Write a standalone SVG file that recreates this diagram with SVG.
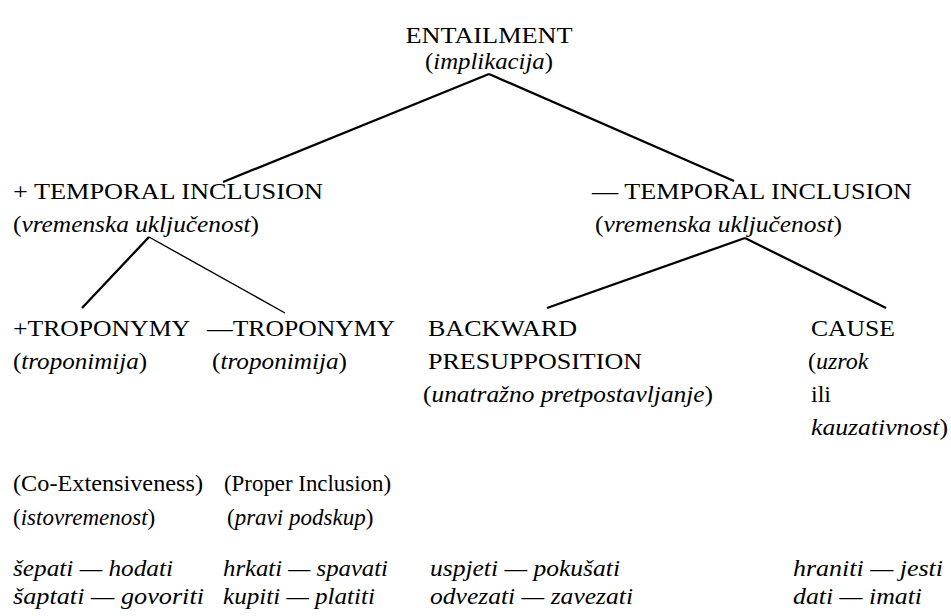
<svg xmlns="http://www.w3.org/2000/svg" width="951" height="616" viewBox="0 0 951 616" font-family="'Liberation Serif', 'DejaVu Serif', serif">
<style>
text{font-family:'Liberation Serif','DejaVu Serif',serif;font-size:24px;fill:#000}
.i{font-style:italic}
.s{font-size:23px}
.c{fill:none;stroke:#000;stroke-width:2.3;stroke-linecap:butt}
.t{fill:none;stroke:#000;stroke-width:1.4}
</style>
<rect width="951" height="616" fill="#fff"/>
<g id="connectors">
<line class="c" x1="489" y1="74" x2="223" y2="182"/>
<line class="c" x1="489" y1="74" x2="734" y2="181"/>
<line class="c" x1="149" y1="237" x2="82" y2="308"/>
<line class="t" x1="149" y1="237" x2="285" y2="313"/>
<line class="c" x1="745" y1="238" x2="547" y2="308"/>
<line class="c" x1="745" y1="238" x2="886" y2="308"/>
</g>
<g id="entailment">
<text x="489" y="43" text-anchor="middle" textLength="167" lengthAdjust="spacingAndGlyphs">ENTAILMENT</text>
<text x="489" y="69" text-anchor="middle" textLength="128" lengthAdjust="spacingAndGlyphs">(<tspan class="i">implikacija</tspan>)</text>
</g>
<g id="plus-temporal">
<text x="13" y="199" textLength="310" lengthAdjust="spacingAndGlyphs">+ TEMPORAL INCLUSION</text>
<text x="13" y="232" textLength="246" lengthAdjust="spacingAndGlyphs">(<tspan class="i">vremenska uključenost</tspan>)</text>
</g>
<g id="minus-temporal">
<text x="592" y="199" textLength="320" lengthAdjust="spacingAndGlyphs">— TEMPORAL INCLUSION</text>
<text x="595" y="232" textLength="247" lengthAdjust="spacingAndGlyphs">(<tspan class="i">vremenska uključenost</tspan>)</text>
</g>
<g id="plus-troponymy">
<text x="13" y="336" textLength="177" lengthAdjust="spacingAndGlyphs">+TROPONYMY</text>
<text x="13" y="369" textLength="134" lengthAdjust="spacingAndGlyphs">(<tspan class="i">troponimija</tspan>)</text>
<text x="13" y="491" textLength="190" lengthAdjust="spacingAndGlyphs">(Co-Extensiveness)</text>
<text x="13" y="525" class="s">(<tspan class="i">istovremenost</tspan>)</text>
<text x="13" y="576" class="i" textLength="160" lengthAdjust="spacingAndGlyphs">šepati — hodati</text>
<text x="13" y="604" class="i" textLength="191" lengthAdjust="spacingAndGlyphs">šaptati — govoriti</text>
</g>
<g id="minus-troponymy">
<text x="207" y="336" textLength="188" lengthAdjust="spacingAndGlyphs">—TROPONYMY</text>
<text x="212" y="369" textLength="135" lengthAdjust="spacingAndGlyphs">(<tspan class="i">troponimija</tspan>)</text>
<text x="224" y="491" textLength="167" lengthAdjust="spacingAndGlyphs">(Proper Inclusion)</text>
<text x="227" y="525" class="s">(<tspan class="i">pravi podskup</tspan>)</text>
<text x="223" y="576" class="i" textLength="165" lengthAdjust="spacingAndGlyphs">hrkati — spavati</text>
<text x="223" y="604" class="i" textLength="152" lengthAdjust="spacingAndGlyphs">kupiti — platiti</text>
</g>
<g id="backward-presupposition">
<text x="428" y="336" textLength="149" lengthAdjust="spacingAndGlyphs">BACKWARD</text>
<text x="428" y="369" textLength="214" lengthAdjust="spacingAndGlyphs">PRESUPPOSITION</text>
<text x="423" y="402" textLength="290" lengthAdjust="spacingAndGlyphs">(<tspan class="i">unatražno pretpostavljanje</tspan>)</text>
<text x="430" y="576" class="i" textLength="190" lengthAdjust="spacingAndGlyphs">uspjeti — pokušati</text>
<text x="430" y="604" class="i" textLength="203" lengthAdjust="spacingAndGlyphs">odvezati — zavezati</text>
</g>
<g id="cause">
<text x="811" y="336" textLength="84" lengthAdjust="spacingAndGlyphs">CAUSE</text>
<text x="808" y="369">(<tspan class="i">uzrok</tspan></text>
<text x="811" y="402">ili</text>
<text x="811" y="435" textLength="137" lengthAdjust="spacingAndGlyphs"><tspan class="i">kauzativnost</tspan>)</text>
<text x="793" y="576" class="i" textLength="150" lengthAdjust="spacingAndGlyphs">hraniti — jesti</text>
<text x="793" y="604" class="i" textLength="129" lengthAdjust="spacingAndGlyphs">dati — imati</text>
</g>
</svg>
